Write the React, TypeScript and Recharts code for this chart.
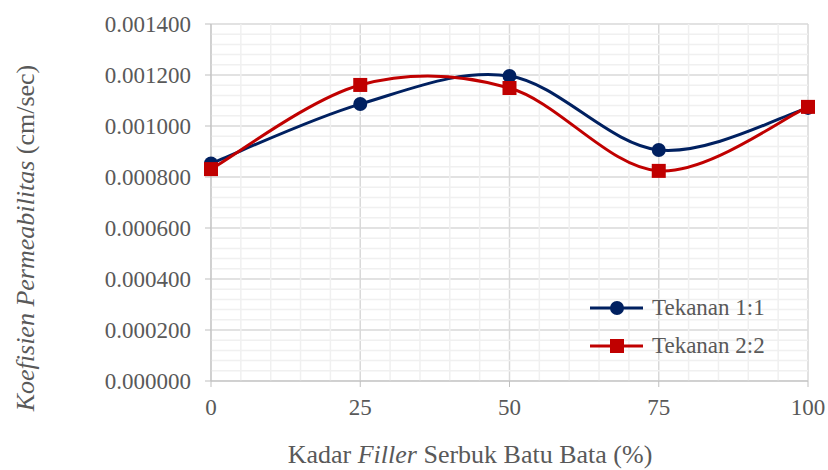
import { LineChart, Line, XAxis, YAxis, CartesianGrid, ReferenceLine } from 'recharts'

const kadarFiller = [0, 25, 50, 75, 100]
const tekanan11 = [0.000853, 0.001086, 0.001196, 0.000906, 0.001071]
const tekanan22 = [0.000831, 0.001161, 0.001149, 0.000824, 0.001075]

const xTicks = [0, 25, 50, 75, 100]
const xMinorTicks = [5, 10, 15, 20, 30, 35, 40, 45, 55, 60, 65, 70, 80, 85, 90, 95]
const yTicks = [0, 0.0002, 0.0004, 0.0006, 0.0008, 0.001, 0.0012, 0.0014]
const yMinorTicks = Array.from({ length: 36 }, (_, i) => Number((i * 0.00004).toFixed(6))).filter(
  (_, i) => i % 5 !== 0
)

const data = kadarFiller.map((x, i) => ({ x, a: tekanan11[i], b: tekanan22[i] }))

const FONT = 'Liberation Serif'
const TEXT = '#595959'
const NAVY = '#002060'
const RED = '#C00000'

// smoothed bezier through the points, same style as office chart "smoothed line"
const smoothCurve = (context: any) => {
  let xs: number[] = []
  let ys: number[] = []
  return {
    areaStart() {},
    areaEnd() {},
    lineStart() {
      xs = []
      ys = []
    },
    point(x: number, y: number) {
      xs.push(+x)
      ys.push(+y)
    },
    lineEnd() {
      const n = xs.length
      if (!n) return
      context.moveTo(xs[0], ys[0])
      for (let i = 0; i < n - 1; i++) {
        const p = Math.max(i - 1, 0)
        const q = Math.min(i + 2, n - 1)
        context.bezierCurveTo(
          xs[i] + (xs[i + 1] - xs[p]) / 6,
          ys[i] + (ys[i + 1] - ys[p]) / 6,
          xs[i + 1] - (xs[q] - xs[i]) / 6,
          ys[i + 1] - (ys[q] - ys[i]) / 6,
          xs[i + 1],
          ys[i + 1]
        )
      }
    },
  }
}

const SquareDot = (props: any) => {
  const { cx, cy } = props
  if (cx == null || cy == null) return null
  return <rect x={cx - 7} y={cy - 7} width={14} height={14} fill={RED} />
}

const legendItems = [
  { name: 'Tekanan 1:1', color: NAVY, shape: 'circle' },
  { name: 'Tekanan 2:2', color: RED, shape: 'square' },
]

function ChartLegend() {
  return (
    <div
      style={{ position: 'absolute', left: 588, top: 289, fontFamily: FONT, fontSize: 23, color: TEXT }}
    >
      {legendItems.map((it) => (
        <div key={it.name} style={{ display: 'flex', alignItems: 'center', height: 38 }}>
          <svg width={60} height={20}>
            <line x1={2} y1={10} x2={55} y2={10} stroke={it.color} strokeWidth={3} />
            {it.shape === 'circle' ? (
              <circle cx={29} cy={10} r={7} fill={it.color} />
            ) : (
              <rect x={22} y={3} width={14} height={14} fill={it.color} />
            )}
          </svg>
          <span style={{ marginLeft: 4 }}>{it.name}</span>
        </div>
      ))}
    </div>
  )
}

const YTitle = () => (
  <text
    x={25}
    y={238}
    transform="rotate(-90 25 238)"
    textAnchor="middle"
    dominantBaseline="central"
    fontFamily={FONT}
    fontSize={26}
    fill={TEXT}
  >
    <tspan fontStyle="italic">Koefisien Permeabilitas</tspan>
    <tspan> (cm/sec)</tspan>
  </text>
)

const XTitle = () => (
  <text x={470} y={463} textAnchor="middle" fontFamily={FONT} fontSize={26} fill={TEXT}>
    <tspan>Kadar </tspan>
    <tspan fontStyle="italic">Filler</tspan>
    <tspan> Serbuk Batu Bata (%)</tspan>
  </text>
)

export default function App() {
  return (
    <div style={{ position: 'absolute', left: 0, top: 0, width: 828, height: 470, background: '#fff' }}>
      <LineChart width={828} height={470} data={data} margin={{ top: 24, right: 20, left: 0, bottom: 0 }}>
        <CartesianGrid stroke="#d9d9d9" strokeWidth={1.5} />
        {/* minor grid */}
        {xMinorTicks.map((v) => (
          <ReferenceLine key={'vx' + v} x={v} stroke="#f0f0f0" strokeWidth={1.5} />
        ))}
        {yMinorTicks.map((v) => (
          <ReferenceLine key={'hy' + v} y={v} stroke="#f0f0f0" strokeWidth={1.5} />
        ))}
        <XAxis
          dataKey="x"
          type="number"
          domain={[0, 100]}
          ticks={xTicks}
          height={89}
          stroke="#bfbfbf"
          tickSize={6}
          tickMargin={12}
          tick={{ fill: TEXT, fontFamily: FONT, fontSize: 23 }}
          label={<XTitle />}
        />
        <YAxis
          type="number"
          domain={[0, 0.0014]}
          ticks={yTicks}
          width={211}
          stroke="#bfbfbf"
          tickSize={6}
          tickMargin={14}
          tickFormatter={(v: number) => v.toFixed(6)}
          tick={{ fill: TEXT, fontFamily: FONT, fontSize: 23 }}
          label={<YTitle />}
        />
        <Line
          dataKey="a"
          name="Tekanan 1:1"
          type={smoothCurve as any}
          stroke={NAVY}
          strokeWidth={3}
          dot={{ r: 7, fill: NAVY, stroke: NAVY, strokeWidth: 0 }}
          isAnimationActive={false}
        />
        <Line
          dataKey="b"
          name="Tekanan 2:2"
          type={smoothCurve as any}
          stroke={RED}
          strokeWidth={3}
          dot={<SquareDot />}
          isAnimationActive={false}
        />
      </LineChart>
      <ChartLegend />
    </div>
  )
}
